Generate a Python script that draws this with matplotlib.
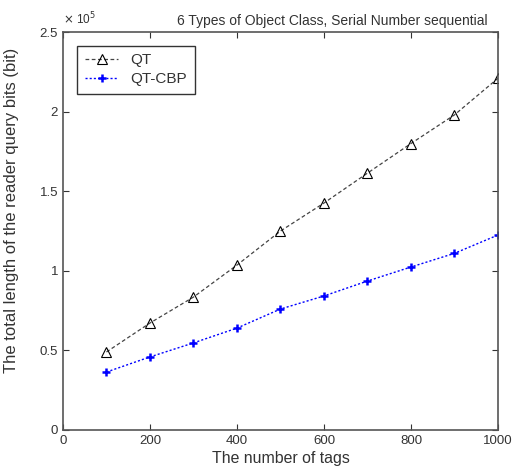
import matplotlib
matplotlib.use('Agg')
import matplotlib.pyplot as plt
from matplotlib.ticker import FuncFormatter

plt.rcParams['font.family'] = ['Liberation Sans', 'DejaVu Sans']
plt.rcParams['font.size'] = 9
plt.rcParams['text.color'] = '#333333'
plt.rcParams['xtick.color'] = '#333333'
plt.rcParams['ytick.color'] = '#333333'
plt.rcParams['axes.labelcolor'] = '#333333'

tags = [100, 200, 300, 400, 500, 600, 700, 800, 900, 1000]
qt = [49000, 67200, 83500, 103600, 125000, 142600, 161400, 180000, 198000, 221000]
qt_cbp = [36400, 45900, 54700, 64000, 76000, 84200, 93600, 102400, 111000, 122500]

fig = plt.figure(figsize=(5.16, 4.73), dpi=100)
ax = fig.add_axes([0.122, 0.091, 0.843, 0.841])

ax.plot(tags, qt, linestyle=(0, (3, 2)), color='#444444', linewidth=0.9,
        marker='^', markersize=7, markerfacecolor='none', markeredgecolor='black',
        markeredgewidth=0.8, label='QT')
ax.plot(tags, qt_cbp, linestyle=(0, (1.5, 1.5)), color='blue', linewidth=1.0,
        marker='+', markersize=6, markeredgewidth=1.8, label='QT-CBP')

ax.set_xlim(0, 1000)
ax.set_ylim(0, 250000)
ax.set_xticks([0, 200, 400, 600, 800, 1000])
ax.set_yticks([0, 50000, 100000, 150000, 200000, 250000])
ax.yaxis.set_major_formatter(FuncFormatter(lambda v, p: '%g' % (v / 1e5)))
ax.text(0.0, 1.012, r'$\times$ 10$^5$', transform=ax.transAxes, fontsize=8.5,
        ha='left', va='bottom')
ax.tick_params(direction='in', top=True, right=True, length=4, labelsize=9.5)
for s in ax.spines.values():
    s.set_linewidth(1.2)
    s.set_color('#555555')

ax.set_xlabel('The number of tags', fontsize=11.4, labelpad=3)
ax.set_ylabel('The total length of the reader query bits (bit)', fontsize=12)
ax.yaxis.set_label_coords(-0.1, 0.553)
ax.set_title('6 Types of Object Class, Serial Number sequential', fontsize=10, x=0.62, pad=5)

leg = ax.legend(loc='upper left', fancybox=False, edgecolor='#333333', fontsize=11,
                handlelength=2.2, borderpad=0.5, framealpha=1, labelspacing=0.3,
                bbox_to_anchor=(0.015, 0.985))
leg.get_frame().set_linewidth(1.0)

fig.savefig('out.png', dpi=100)
